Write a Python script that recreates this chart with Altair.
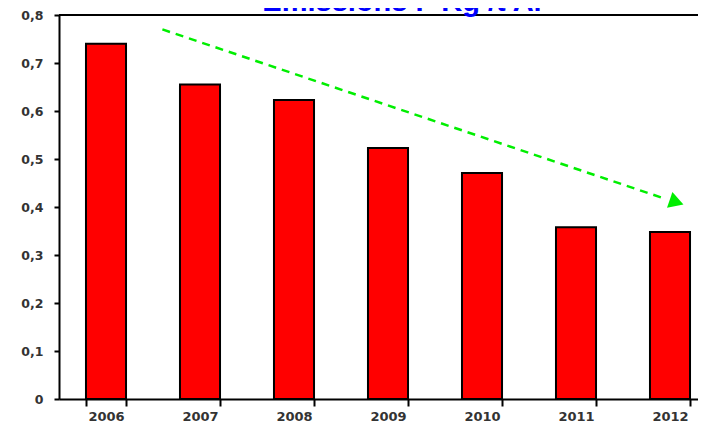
import altair as alt
import pandas as pd

years = ["2006", "2007", "2008", "2009", "2010", "2011", "2012"]
values = [0.74, 0.655, 0.623, 0.523, 0.471, 0.358, 0.348]

# trend arrow, x in category units (0 = left edge of first band), y in data units
arrow_x = [1.1, 6.45]
arrow_y = [0.77, 0.417]
head_x = [6.57]
head_y = [0.41]

title_text = "Emissions F Kg /t Al"

bars_df = pd.DataFrame({"year": years, "value": values})
arrow_df = pd.DataFrame({"x": arrow_x, "y": arrow_y})
head_df = pd.DataFrame({"x": head_x, "y": head_y})
title_df = pd.DataFrame({"t": [title_text]})

W = 639      # visible plot width (the frame continues past the page edge)
FULL = 658   # full x range of the category axis
H = 384

yscale = alt.Scale(domain=[0, 0.8], nice=False, zero=True)

bars = alt.Chart(bars_df).mark_bar(
    color="#ff0000", stroke="#000000", strokeWidth=2
).encode(
    x=alt.X("year:N", sort=years,
            scale=alt.Scale(paddingInner=0.574, paddingOuter=0.287, range=[0, FULL]),
            axis=alt.Axis(title=None, labelAngle=0, tickBand="extent",
                          domainColor="#000", domainWidth=2,
                          tickColor="#000", tickWidth=2, tickSize=7,
                          labelFont="DejaVu Sans", labelFontWeight="bold",
                          labelFontSize=13, labelColor="#333333",
                          labelPadding=4)),
    y=alt.Y("value:Q", scale=yscale,
            axis=alt.Axis(title=None, values=[0, 0.1, 0.2, 0.3, 0.4, 0.5, 0.6, 0.7, 0.8],
                          labelExpr="datum.value == 0 ? '0' : replace(format(datum.value, '.1f'), '.', ',')",
                          grid=False, domainColor="#000", domainWidth=2,
                          tickColor="#000", tickWidth=2, tickSize=5,
                          labelFont="DejaVu Sans", labelFontWeight="bold",
                          labelFontSize=12.5, labelColor="#333333",
                          labelPadding=11)),
)

top_border = alt.Chart(bars_df).mark_rule(color="#000000", strokeWidth=2).encode(
    x=alt.value(0), x2=alt.value(FULL), y=alt.value(0)
)

xq = alt.Scale(domain=[0, 7], nice=False, zero=False, range=[0, FULL])

line = alt.Chart(arrow_df).mark_line(
    color="#00ee00", strokeDash=[8, 6], strokeWidth=2.5
).encode(
    x=alt.X("x:Q", scale=xq, axis=None),
    y=alt.Y("y:Q", scale=yscale),
)

head = alt.Chart(head_df).mark_point(
    shape="triangle-right", filled=True, size=280, angle=18.7,
    color="#00ee00", opacity=1
).encode(
    x=alt.X("x:Q", scale=xq, axis=None),
    y=alt.Y("y:Q", scale=yscale),
)

title = alt.Chart(title_df).mark_text(
    font="Liberation Sans", fontWeight="bold", fontSize=29, color="#0000ff",
    align="center", baseline="alphabetic"
).encode(
    text="t:N", x=alt.value(343), y=alt.value(-4)
)

chart = alt.layer(bars, top_border, line, head, title).resolve_scale(x="independent").properties(
    width=W, height=H,
    autosize=alt.AutoSizeParams(type="none"),
    padding={"left": 51, "top": 7, "right": 0, "bottom": 26},
).configure_view(stroke=None)

chart.save("out.html", embed_options={"renderer": "svg", "actions": False})
